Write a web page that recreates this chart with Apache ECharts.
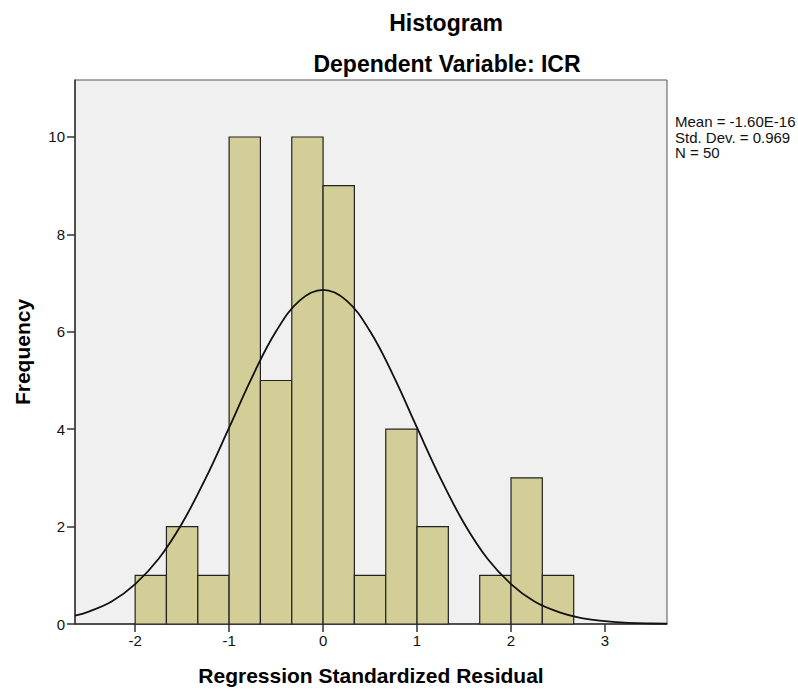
<!DOCTYPE html>
<html>
<head>
<meta charset="utf-8">
<script src="https://cdn.jsdelivr.net/npm/echarts@6/dist/echarts.min.js"></script>
<style>
html,body{margin:0;padding:0;background:#fff;}
#chart{width:798px;height:691px;}
</style>
</head>
<body>
<div id="chart"></div>
<script>
// ---- data ----
const binLow   = [-2.0, -1.667, -1.333, -1.0, -0.667, -0.333, 0.0, 0.333, 0.667, 1.0, 1.333, 1.667, 2.0, 2.333];
const binHigh  = [-1.667, -1.333, -1.0, -0.667, -0.333, 0.0, 0.333, 0.667, 1.0, 1.333, 1.667, 2.0, 2.333, 2.667];
const counts   = [1, 2, 1, 10, 5, 10, 9, 1, 4, 2, 0, 1, 3, 1];
const curveX   = [-2.64, -2.5, -2.25, -2.0, -1.75, -1.5, -1.25, -1.0, -0.75, -0.5, -0.25, 0.0, 0.25, 0.5, 0.75, 1.0, 1.25, 1.5, 1.75, 2.0, 2.25, 2.5, 2.75, 3.0, 3.25, 3.5, 3.66];
const curveY   = [0.17, 0.25, 0.46, 0.82, 1.34, 2.07, 2.99, 4.03, 5.09, 6.01, 6.64, 6.86, 6.64, 6.01, 5.09, 4.03, 2.99, 2.07, 1.34, 0.82, 0.46, 0.25, 0.12, 0.06, 0.025, 0.01, 0.006];
const xTicks   = [-2, -1, 0, 1, 2, 3];
const yTicks   = [0, 2, 4, 6, 8, 10];
const statsText = ['Mean = -1.60E-16', 'Std. Dev. = 0.969', 'N = 50'];

const chart = echarts.init(document.getElementById('chart'), null, {renderer: 'svg'});

const barData = binLow.map((lo, i) => [lo, binHigh[i], counts[i]]);
const curveData = curveX.map((x, i) => [x, curveY[i]]);
const FONT = 'Liberation Sans, Arial, sans-serif';

const option = {
  backgroundColor: '#ffffff',
  animation: false,
  title: [
    {text: 'Histogram', left: 441, top: 6, textAlign: 'center',
     textStyle: {fontFamily: FONT, fontWeight: 'bold', fontSize: 23, color: '#000'}},
    {text: 'Dependent Variable: ICR', left: 442, top: 47, textAlign: 'center',
     textStyle: {fontFamily: FONT, fontWeight: 'bold', fontSize: 23, color: '#000'}}
  ],
  grid: {left: 75, right: 131, top: 80, bottom: 66, show: true,
         backgroundColor: '#f0f0f0', borderColor: '#555', borderWidth: 1},
  xAxis: {
    type: 'value', min: -2.64, max: 3.66,
    name: 'Regression Standardized Residual', nameLocation: 'middle', nameGap: 41,
    nameTextStyle: {fontFamily: FONT, fontWeight: 'bold', fontSize: 21, color: '#000'},
    axisLine: {show: true, onZero: false, lineStyle: {color: '#333', width: 1.5}},
    axisTick: {show: true, customValues: xTicks, length: 8, lineStyle: {color: '#333', width: 1.5}},
    axisLabel: {customValues: xTicks, color: '#111', fontSize: 15, fontFamily: FONT, margin: 9},
    splitLine: {show: false}
  },
  yAxis: {
    type: 'value', min: 0, max: 11.17,
    name: 'Frequency', nameLocation: 'middle', nameGap: 42,
    nameTextStyle: {fontFamily: FONT, fontWeight: 'bold', fontSize: 21, color: '#000'},
    axisLine: {show: true, onZero: false, lineStyle: {color: '#333', width: 1.5}},
    axisTick: {show: true, customValues: yTicks, length: 8, lineStyle: {color: '#333', width: 1.5}},
    axisLabel: {customValues: yTicks, color: '#111', fontSize: 15, fontFamily: FONT, margin: 10},
    splitLine: {show: false}
  },
  graphic: statsText.map((t, i) => ({
    type: 'text', left: 675, top: 114 + i * 15.5,
    style: {text: t, fill: '#111', font: '15px "Liberation Sans", Arial, sans-serif'}
  })),
  series: [
    {
      type: 'custom',
      data: barData,
      encode: {x: [0, 1], y: 2},
      renderItem: function (params, api) {
        const h = api.value(2);
        if (!h) return null;
        const p1 = api.coord([api.value(0), h]);
        const p2 = api.coord([api.value(1), 0]);
        return {
          type: 'rect',
          shape: {x: p1[0], y: p1[1], width: p2[0] - p1[0], height: p2[1] - p1[1]},
          style: {fill: '#d3ce97', stroke: '#222', lineWidth: 1.2}
        };
      },
      z: 2
    },
    {
      type: 'line',
      data: curveData,
      smooth: 0.4,
      symbol: 'none',
      lineStyle: {color: '#111', width: 1.8},
      z: 3
    }
  ]
};
chart.setOption(option);
</script>
</body>
</html>
